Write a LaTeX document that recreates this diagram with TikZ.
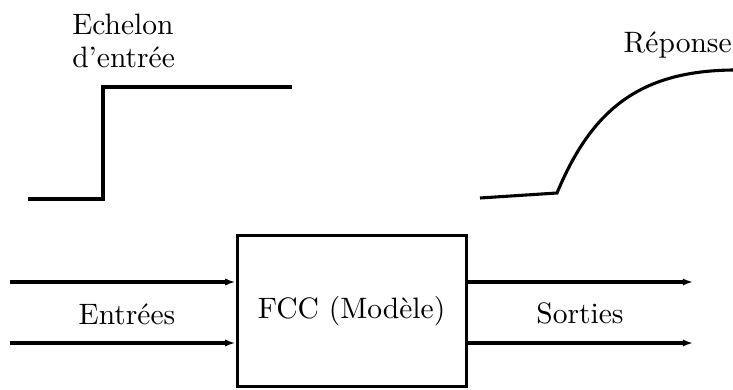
\documentclass[tikz,border=0pt]{standalone}
\usepackage{fontspec}
\setmainfont{lmroman10-regular.otf}
\usepackage{xcolor}
\usepackage{tikz}
\usetikzlibrary{arrows.meta, positioning}

\begin{document}
\begin{tikzpicture}[
    font=\fontsize{21}{24}\selectfont,
    box/.style={rectangle, draw=black, line width=2.2pt, fill=white, align=center,
                minimum width=5.725cm, minimum height=3.775cm},
    arrow/.style={-{Latex[length=2.6mm, width=1.8mm]}, line width=2.2pt, draw=black},
    curve/.style={line width=2.2pt, draw=black},
    flowlabel/.style={align=left, inner sep=0pt}
  ]
    \useasboundingbox (0,0) rectangle (18.325,9.725);

    \node[box] (fcc) at (8.79,1.94) {FCC (Modèle)};

    \coordinate (in1)  at (0.25,2.675);
    \coordinate (in2)  at (0.25,1.15);
    \coordinate (out1) at (17.33,2.675);
    \coordinate (out2) at (17.33,1.15);

    \draw[arrow] (in1) -- (in1 -| fcc.west);
    \draw[arrow] (in2) -- (in2 -| fcc.west);
    \draw[arrow] (out1 -| fcc.east) -- (out1);
    \draw[arrow] (out2 -| fcc.east) -- (out2);

    \node[flowlabel] (entrees) at (3.175,1.875) {Entrées};
    \node[flowlabel] (sorties) at (14.5,1.9) {Sorties};

    % echelon d'entree
    \draw[curve] (0.7,4.75) -- (2.575,4.75) -- (2.575,7.55) -- (7.3,7.55);
    \node[flowlabel, anchor=west] (echelon) at (1.8,8.7) {Echelon\\d’entrée};

    % reponse
    \draw[curve] (12.0,4.775) -- (13.925,4.9)
      .. controls (14.8,7.0) and (16.0,7.95) .. (18.325,7.975);
    \node[flowlabel, anchor=east] (reponse) at (18.3,8.6) {Réponse};
\end{tikzpicture}
\end{document}
